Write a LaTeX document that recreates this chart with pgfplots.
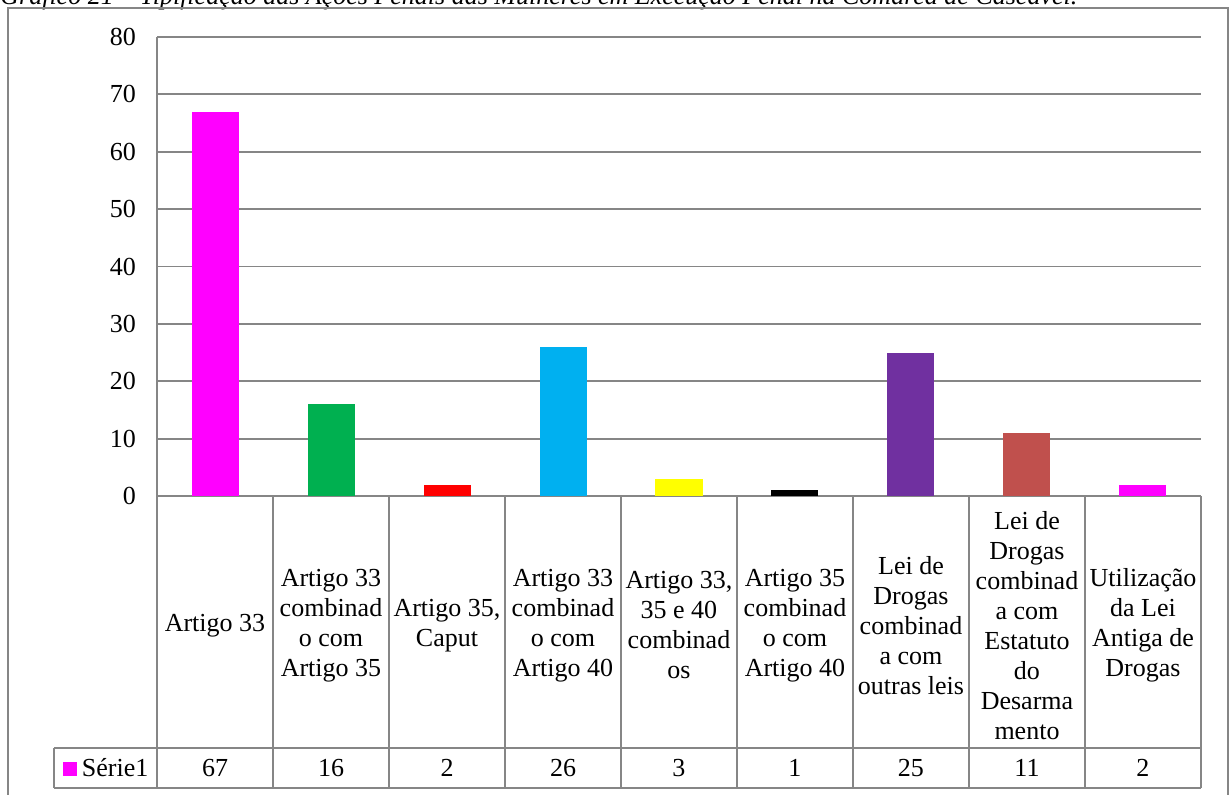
\documentclass[border=0pt]{standalone}
\usepackage{fontspec}
\setmainfont{Liberation Serif}
\usepackage{pgfplots}
\pgfplotsset{compat=1.18}
\usepackage{pgfplotstable}

\definecolor{linegray}{RGB}{134,134,134}
\definecolor{bar0}{RGB}{255,0,255}
\definecolor{bar1}{RGB}{0,176,80}
\definecolor{bar2}{RGB}{255,0,0}
\definecolor{bar3}{RGB}{0,176,240}
\definecolor{bar4}{RGB}{255,255,0}
\definecolor{bar5}{RGB}{0,0,0}
\definecolor{bar6}{RGB}{112,48,160}
\definecolor{bar7}{RGB}{192,80,77}
\definecolor{bar8}{RGB}{255,0,255}

\newcommand{\lbl}{\fontsize{13}{15}\selectfont}

% Tipificação: número de ações penais por categoria
\pgfplotstableread{
x n
0 67
1 16
2 2
3 26
4 3
5 1
6 25
7 11
8 2
}\penas

\begin{document}
\begin{tikzpicture}
\useasboundingbox (0,0) rectangle (615pt,-397pt);

% título do gráfico
\node[anchor=base west, inner sep=0pt, font=\lbl\itshape] at (0pt,-2.25pt)
  {Gráfico 21 – Tipificação das Ações Penais das Mulheres em Execução Penal na Comarca de Cascavel.};

\begin{axis}[
  at={(78.5pt,-248pt)}, anchor=south west,
  scale only axis, width=522pt, height=229.5pt,
  xmin=-0.5, xmax=8.5, ymin=0, ymax=80,
  ytick={0,10,...,80}, xtick={0,...,8},
  xticklabels={
    {Artigo 33},
    {Artigo 33\\combinad\\o com\\Artigo 35},
    {Artigo 35,\\Caput},
    {Artigo 33\\combinad\\o com\\Artigo 40},
    {Artigo 33,\\35 e 40\\combinad\\os},
    {Artigo 35\\combinad\\o com\\Artigo 40},
    {Lei de\\Drogas\\combinad\\a com\\outras leis},
    {Lei de\\Drogas\\combinad\\a com\\Estatuto\\do\\Desarma\\mento},
    {Utilização\\da Lei\\Antiga de\\Drogas}},
  xticklabel style={anchor=center, align=center, yshift=-64.75pt, font=\lbl},
  yticklabel style={font=\lbl, xshift=-7pt},
  /pgf/number format/assume math mode=true,
  axis lines*=left,
  axis line style={linegray, line width=0.9pt},
  ymajorgrids, grid style={linegray, line width=0.9pt},
  tick style={draw=none},
  clip=false,
]
\pgfplotsinvokeforeach{0,...,8}{
  \addplot[ybar, bar width=23.5pt, bar shift=0pt, draw=none, fill=bar#1,
    restrict expr to domain={\coordindex}{#1:#1}] table[x=x, y=n] {\penas};
}
% linha de valores da tabela de dados
\addplot[draw=none, mark=none, nodes near coords, point meta=explicit,
  every node near coord/.append style={anchor=center, font=\lbl}]
  table[x=x, y expr=-47.4, meta=n] {\penas};
\end{axis}

\begin{scope}[x=0.5pt, y=-0.5pt, linegray, line width=0.9pt]
  \foreach \k in {0,...,9}
    \draw ({157+116*\k},496) -- ({157+116*\k},788);
  \draw (54,748) -- (1201,748);
  \draw (54,788) -- (1201,788);
  \draw (54,748) -- (54,788);
  \draw (8,820) -- (8,8) -- (1228,8) -- (1228,820);
  \fill[bar0] (63,762) rectangle (77,776);
  \node[anchor=west, inner sep=0pt, text=black, font=\lbl] at (81,768) {Série1};
\end{scope}
\end{tikzpicture}
\end{document}
